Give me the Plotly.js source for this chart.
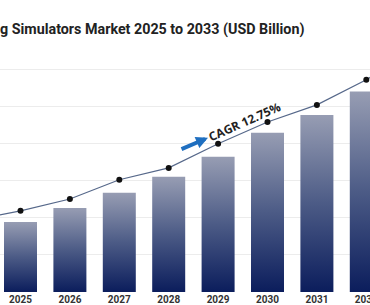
<!DOCTYPE html>
<html>
<head>
<meta charset="utf-8">
<script src="https://cdn.plot.ly/plotly-3.0.1.min.js"></script>
<style>
html,body{margin:0;padding:0;background:#fff;}
#chart{width:370px;height:305px;}
</style>
</head>
<body>
<div id="chart"></div>
<script>
// Data (USD Billion; gridline step = 1)
const barYears = [2025, 2026, 2027, 2028, 2029, 2030, 2031, 2032, 2033];
const barValues = [1.89, 2.27, 2.68, 3.11, 3.65, 4.30, 4.78, 5.41, 6.10];
const lineYears = [2024, 2025, 2026, 2027, 2028, 2029, 2030, 2031, 2032, 2033];
const lineValues = [1.93, 2.19, 2.51, 3.03, 3.35, 4.00, 4.59, 5.05, 5.73, 6.54];
const tickYears = [2025, 2026, 2027, 2028, 2029, 2030, 2031, 2032, 2033];
const tickLabels = ['2025', '2026', '2027', '2028', '2029', '2030', '2031', '2032', '2033'];
const titleText = 'g Simulators Market 2025 to 2033 (USD Billion)';
const cagrText = 'CAGR 12.75%';

const bars = {
  type: 'bar', x: barYears, y: barValues,
  marker: {color: '#3a4a78', line: {width: 0}},
  width: 0.668, hoverinfo: 'skip'
};
const line = {
  type: 'scatter', mode: 'lines+markers', x: lineYears, y: lineValues,
  line: {color: '#56688a', width: 1.2},
  marker: {color: '#111111', size: 6},
  hoverinfo: 'skip', cliponaxis: true
};

const layout = {
  width: 370, height: 305,
  margin: {l: 0, r: 0, t: 66, b: 13, pad: 0},
  paper_bgcolor: '#ffffff', plot_bgcolor: '#ffffff',
  showlegend: false,
  title: {
    text: titleText, x: 0, xref: 'paper', xanchor: 'left',
    y: 1 - 29/305, yref: 'container', yanchor: 'middle',
    font: {family: 'Roboto, Arial, sans-serif', size: 14.3, color: '#222222', weight: 'bold'}
  },
  xaxis: {
    type: 'linear', range: [2024.585, 2032.075],
    tickvals: tickYears, ticktext: tickLabels,
    showgrid: false, zeroline: false, showline: false, ticks: '',
    ticklabelstandoff: 0, ticklabeloverflow: 'allow',
    tickfont: {family: 'Roboto, Arial, sans-serif', size: 10, color: '#333333', weight: 'bold'},
    fixedrange: true
  },
  yaxis: {
    range: [0, 6.1], dtick: 1, showticklabels: false,
    showgrid: true, gridcolor: '#ececec', gridwidth: 1,
    zeroline: false, showline: false, fixedrange: true
  },
  annotations: [
    {
      x: 2028.796, y: 4.162, ax: 2028.229, ay: 3.838,
      xref: 'x', yref: 'y', axref: 'x', ayref: 'y',
      showarrow: true, arrowhead: 2, arrowsize: 0.6, arrowwidth: 4,
      arrowcolor: '#1f6fc0', text: ''
    },
    {
      x: 2029.545, y: 4.595, xref: 'x', yref: 'y', showarrow: false,
      text: cagrText, textangle: -24,
      font: {family: 'Open Sans, Roboto, sans-serif', size: 12, color: '#222222', weight: 'bold'}
    }
  ]
};

function applyGradient(gd) {
  const svg = gd.querySelector('svg.main-svg');
  if (!svg) return;
  let defs = svg.querySelector('defs');
  if (!defs) { defs = document.createElementNS('http://www.w3.org/2000/svg', 'defs'); svg.insertBefore(defs, svg.firstChild); }
  if (!svg.querySelector('#barGrad')) {
    const g = document.createElementNS('http://www.w3.org/2000/svg', 'linearGradient');
    g.setAttribute('id', 'barGrad');
    g.setAttribute('x1', '0'); g.setAttribute('y1', '0');
    g.setAttribute('x2', '0'); g.setAttribute('y2', '1');
    [['0', '#979db3'], ['0.5', '#4c5b86'], ['1', '#0b1d5c']].forEach(function (s) {
      const st = document.createElementNS('http://www.w3.org/2000/svg', 'stop');
      st.setAttribute('offset', s[0]); st.setAttribute('stop-color', s[1]);
      g.appendChild(st);
    });
    defs.appendChild(g);
  }
  gd.querySelectorAll('.barlayer .point path').forEach(function (p) {
    p.style.fill = 'url(#barGrad)';
  });
}

const gd = document.getElementById('chart');
Plotly.newPlot(gd, [bars, line], layout, {displayModeBar: false, staticPlot: true}).then(function () {
  applyGradient(gd);
  gd.on && gd.on('plotly_afterplot', function () { applyGradient(gd); });
});
</script>
</body>
</html>
